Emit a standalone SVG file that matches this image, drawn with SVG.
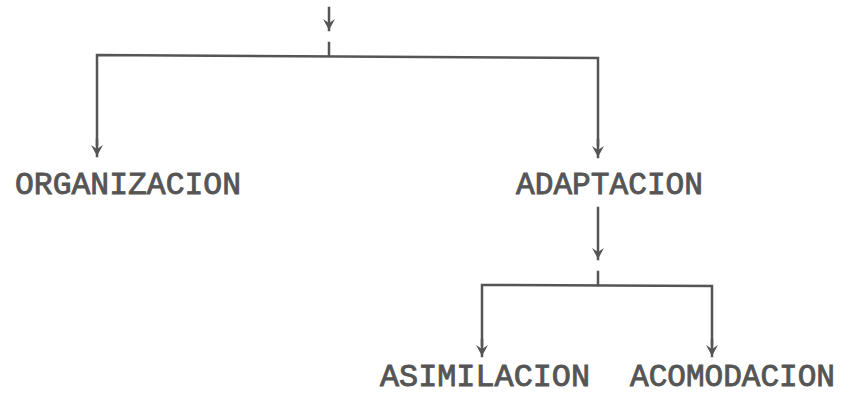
<svg xmlns="http://www.w3.org/2000/svg" width="846" height="396" viewBox="0 0 846 396">
<style>
.c{fill:none;stroke:#555;stroke-width:2.5;stroke-linecap:square}
.t{font-family:"Liberation Mono","DejaVu Sans Mono",monospace;font-size:32px;fill:#555;stroke:#555;stroke-width:0.9}
</style>
<defs>
<marker id="ad" viewBox="0 0 12 14" refX="6" refY="13" markerWidth="12" markerHeight="14" markerUnits="userSpaceOnUse" orient="0">
<path d="M0,2 L6,13 L12,2 L6,6 Z" fill="#555"/>
</marker>
</defs>
<rect width="846" height="396" fill="#fff"/>
<g id="connectors">
<line class="c" x1="329" y1="8" x2="329" y2="30" marker-end="url(#ad)"/>
<line class="c" x1="329" y1="43" x2="329" y2="55"/>
<path class="c" d="M97,145 L97,55 L598,58 L598,145"/>
<line class="c" x1="97" y1="140" x2="97" y2="156" marker-end="url(#ad)"/>
<line class="c" x1="598" y1="140" x2="598" y2="157" marker-end="url(#ad)"/>
<line class="c" x1="598" y1="208" x2="598" y2="259" marker-end="url(#ad)"/>
<line class="c" x1="598" y1="272" x2="598" y2="285"/>
<path class="c" d="M482,345 L482,285 L712,286 L712,345"/>
<line class="c" x1="482" y1="340" x2="482" y2="356" marker-end="url(#ad)"/>
<line class="c" x1="712" y1="340" x2="712" y2="356" marker-end="url(#ad)"/>
</g>
<g id="organizacion"><text class="t" x="15" y="194" textLength="226" lengthAdjust="spacingAndGlyphs">ORGANIZACION</text></g>
<g id="adaptacion"><text class="t" x="516" y="194" textLength="187" lengthAdjust="spacingAndGlyphs">ADAPTACION</text></g>
<g id="asimilacion"><text class="t" x="380" y="386" textLength="210" lengthAdjust="spacingAndGlyphs">ASIMILACION</text></g>
<g id="acomodacion"><text class="t" x="630" y="386" textLength="205" lengthAdjust="spacingAndGlyphs">ACOMODACION</text></g>
</svg>
